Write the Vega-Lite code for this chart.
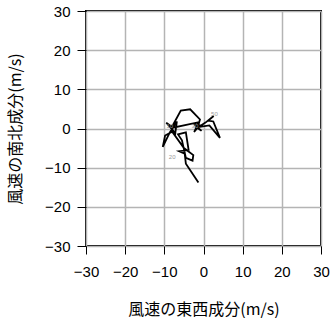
{
  "$schema": "https://vega.github.io/schema/vega-lite/v6.json",
  "width": 235,
  "height": 235,
  "autosize": {"type": "none"},
  "padding": {"left": 86, "top": 11, "right": 10, "bottom": 72},
  "background": "white",
  "config": {
    "view": {"stroke": "black", "strokeWidth": 2},
    "axis": {
      "labelFont": "Liberation Sans",
      "labelFontSize": 15,
      "labelColor": "black",
      "labelOverlap": false,
      "titleFont": "Noto Sans CJK JP",
      "titleFontSize": 16,
      "titleFontWeight": "normal",
      "titleColor": "black",
      "tickColor": "black",
      "tickWidth": 1,
      "domain": false,
      "gridColor": "#b4b4b4",
      "gridWidth": 1.5,
      "gridOpacity": 1
    }
  },
  "datasets": {
    "path": [
      {"i": 0, "u": -8.0, "v": 0.5},
      {"i": 1, "u": -5.8, "v": 4.6},
      {"i": 2, "u": -3.4, "v": 4.9},
      {"i": 3, "u": -0.9, "v": 2.3},
      {"i": 4, "u": -1.5, "v": 0.2},
      {"i": 5, "u": 0.5, "v": 1.5},
      {"i": 6, "u": 2.6, "v": 3.2},
      {"i": 7, "u": 1.2, "v": 2.0},
      {"i": 8, "u": 2.5, "v": 1.8},
      {"i": 9, "u": 4.2, "v": -2.4},
      {"i": 10, "u": 1.5, "v": 0.8},
      {"i": 11, "u": -1.8, "v": 0.3},
      {"i": 12, "u": -0.5, "v": -0.6},
      {"i": 13, "u": -2.5, "v": 1.2},
      {"i": 14, "u": -1.0, "v": 0.8},
      {"i": 15, "u": -2.4, "v": -0.9},
      {"i": 16, "u": -1.2, "v": 1.6},
      {"i": 17, "u": -7.8, "v": 0.2},
      {"i": 18, "u": -9.5, "v": 1.5},
      {"i": 19, "u": -7.2, "v": -1.2},
      {"i": 20, "u": -6.8, "v": 1.8},
      {"i": 21, "u": -8.6, "v": -1.0},
      {"i": 22, "u": -10.4, "v": -4.7},
      {"i": 23, "u": -9.8, "v": -1.8},
      {"i": 24, "u": -8.0, "v": -0.8},
      {"i": 25, "u": -5.0, "v": -5.0},
      {"i": 26, "u": -2.6, "v": -6.8},
      {"i": 27, "u": -2.8, "v": -8.2},
      {"i": 28, "u": -4.5, "v": -7.5},
      {"i": 29, "u": -5.5, "v": -3.0},
      {"i": 30, "u": -6.5, "v": -1.5},
      {"i": 31, "u": -4.5, "v": -1.0},
      {"i": 32, "u": -3.8, "v": -5.5},
      {"i": 33, "u": -6.2, "v": -5.8},
      {"i": 34, "u": -4.8, "v": -6.4},
      {"i": 35, "u": -4.5, "v": -9.0},
      {"i": 36, "u": -1.3, "v": -13.8}
    ],
    "labels": [
      {"u": -8.0, "v": -7.4, "t": "20"},
      {"u": 2.8, "v": 3.6, "t": "50"},
      {"u": -2.2, "v": 0.7, "t": "30"},
      {"u": -8.6, "v": 0.7, "t": "10"}
    ]
  },
  "encoding": {
    "x": {
      "field": "u", "type": "quantitative",
      "scale": {"domain": [-30, 30], "nice": false, "zero": false},
      "axis": {"values": [-30, -20, -10, 0, 10, 20, 30], "tickSize": 8, "labelPadding": 10, "title": "風速の東西成分(m/s)", "titlePadding": 22, "labelFlush": false}
    },
    "y": {
      "field": "v", "type": "quantitative",
      "scale": {"domain": [-30, 30], "nice": false, "zero": false},
      "axis": {"values": [-30, -20, -10, 0, 10, 20, 30], "tickSize": 9, "labelPadding": 7, "title": "風速の南北成分(m/s)", "titlePadding": 21, "labelFlush": false}
    }
  },
  "layer": [
    {
      "data": {"name": "path"},
      "mark": {"type": "line", "color": "black", "strokeWidth": 1.8, "strokeJoin": "miter", "clip": true},
      "encoding": {
        "order": {"field": "i", "type": "quantitative"}
      }
    },
    {
      "data": {"name": "labels"},
      "mark": {"type": "text", "fontSize": 6, "color": "#999999", "font": "Liberation Sans"},
      "encoding": {
        "text": {"field": "t"}
      }
    }
  ]
}
